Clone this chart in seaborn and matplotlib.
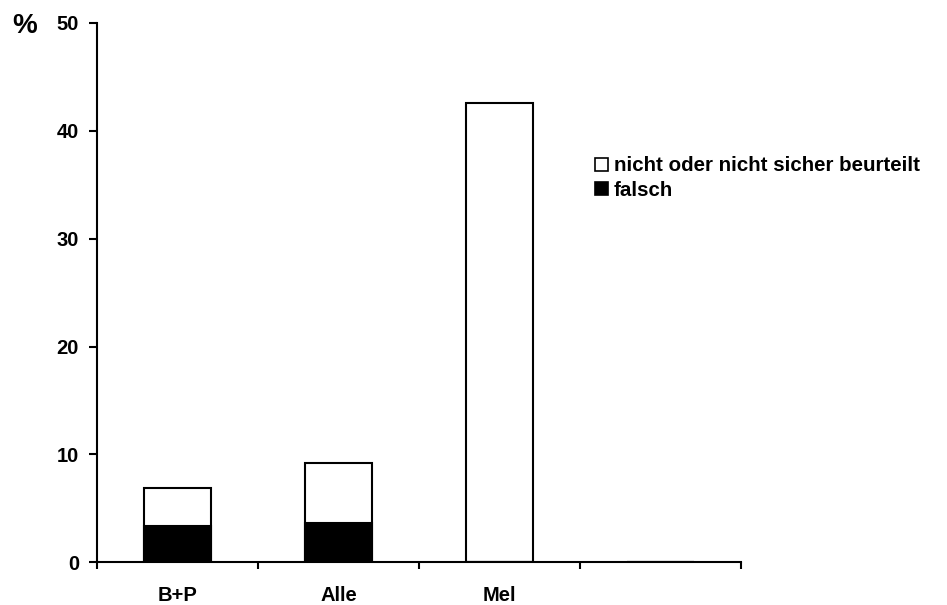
import pandas as pd
import numpy as np
import matplotlib.pyplot as plt
import seaborn as sns
from matplotlib.patches import Patch

# values
categories = ['B+P', 'Alle', 'Mel', '']
total = [6.9, 9.2, 42.6, 0]     # nicht oder nicht sicher beurteilt + falsch
falsch = [3.4, 3.6, 0, 0]

df = pd.DataFrame({'Gruppe': categories, 'Gesamt': total, 'falsch': falsch})

sns.set_style('white')
plt.rcParams['font.family'] = ['Liberation Sans', 'DejaVu Sans']
plt.rcParams['font.weight'] = 'bold'
plt.rcParams['text.color'] = 'black'
plt.rcParams['xtick.color'] = 'black'
plt.rcParams['ytick.color'] = 'black'

fig = plt.figure(figsize=(9.47, 6.05), dpi=100)
ax = fig.add_axes([97 / 947, 1 - 562.3 / 605, (741 - 97) / 947, (562.3 - 23) / 605])

sns.barplot(data=df, x='Gruppe', y='Gesamt', color='white', edgecolor='black',
            linewidth=1.5, width=0.41, saturation=1, ax=ax)
sns.barplot(data=df, x='Gruppe', y='falsch', color='black', edgecolor='black',
            linewidth=1.5, width=0.41, saturation=1, ax=ax)

ax.set_xlim(-0.5, 3.5)
ax.set_ylim(0, 50)
ax.set_xlabel('')
ax.set_ylabel('')

# category boundaries as tick marks, labels centred under the bars
ax.set_xticks(np.arange(-0.5, 4.0, 1.0))
ax.set_xticklabels([])
ax.set_xticks(np.arange(len(categories) - 1), minor=True)
ax.set_xticklabels(categories[:-1], minor=True, fontsize=14.5, fontweight='bold')
ax.tick_params(axis='x', which='major', direction='out', length=5, width=1.5, bottom=True)
ax.tick_params(axis='x', which='minor', length=0, pad=17, bottom=True)

ax.set_yticks([0, 10, 20, 30, 40, 50])
ax.set_yticklabels(['0', '10', '20', '30', '40', '50'], fontsize=14.5, fontweight='bold')
ax.tick_params(axis='y', direction='out', length=6, width=1.5, left=True, pad=7)

sns.despine(ax=ax)
for s in ['left', 'bottom']:
    ax.spines[s].set_linewidth(1.5)
    ax.spines[s].set_color('black')

handles = [Patch(facecolor='white', edgecolor='black', linewidth=1.2),
           Patch(facecolor='black', edgecolor='black', linewidth=1.2)]
fig.legend(handles, ['nicht oder nicht sicher beurteilt', 'falsch'],
           loc='center left', bbox_to_anchor=(595 / 947, 1 - 178 / 605),
           frameon=False, handlelength=0.62, handleheight=0.62, handletextpad=0.3,
           labelspacing=0.25, borderaxespad=0, borderpad=0,
           prop={'size': 14.8, 'weight': 'bold'})

fig.text(25 / 947, 1 - 26 / 605, '%', fontsize=20, fontweight='bold',
         ha='center', va='center')

plt.savefig('out.png', dpi=100)
